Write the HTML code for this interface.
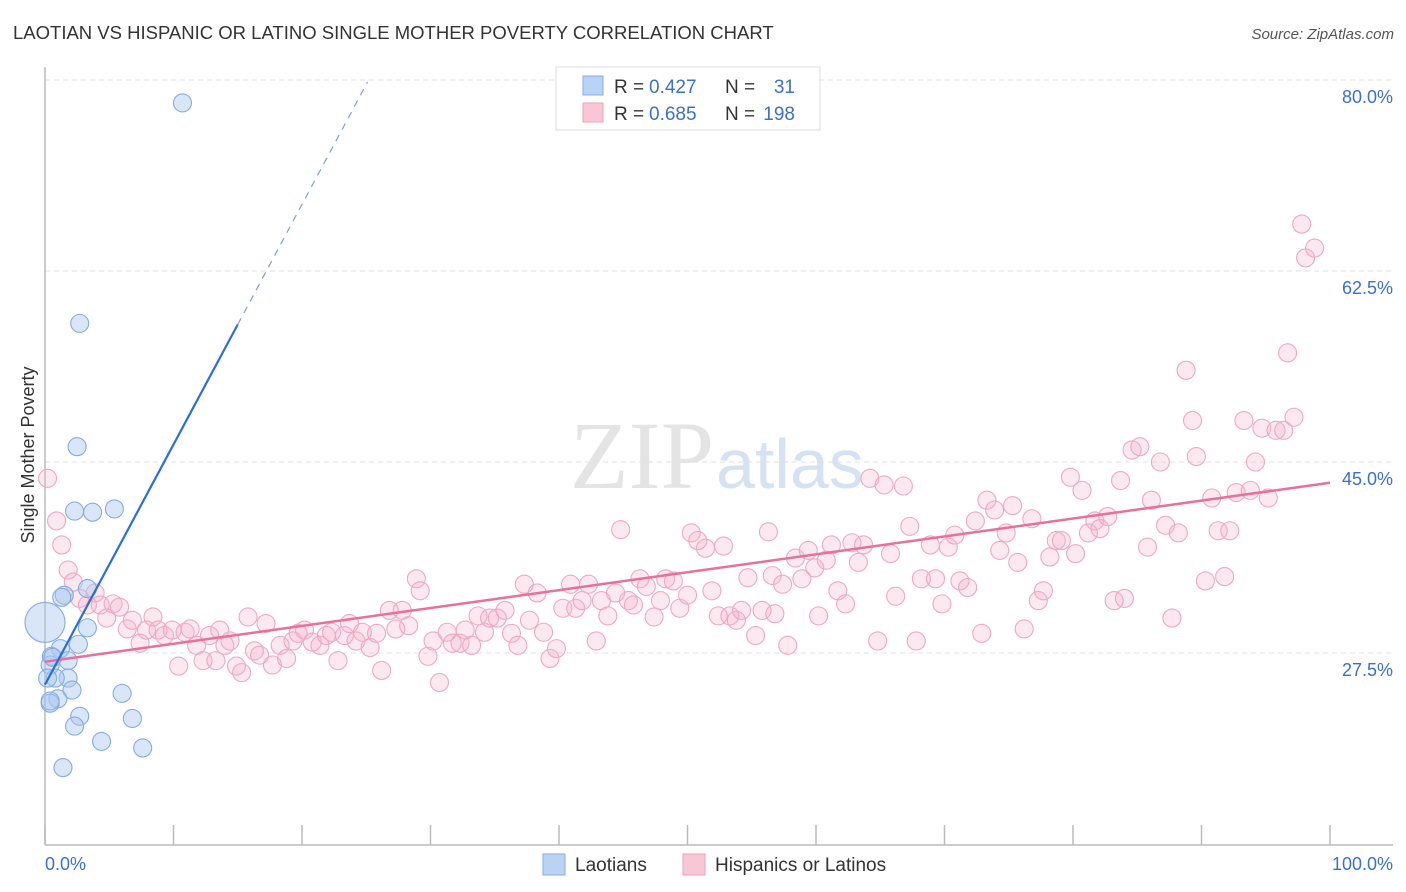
<!DOCTYPE html>
<html><head><meta charset="utf-8"><style>
body{margin:0;background:#fff;font-family:"Liberation Sans",sans-serif}
#wrap{position:relative;width:1406px;height:892px;overflow:hidden}
</style></head><body>
<div id="wrap">
<svg id="chart" width="1406" height="892">
<text x="13" y="39" font-size="18.5" fill="#333">LAOTIAN VS HISPANIC OR LATINO SINGLE MOTHER POVERTY CORRELATION CHART</text>
<text x="1394" y="39" font-size="15" fill="#555" font-style="italic" text-anchor="end">Source: ZipAtlas.com</text>
<text x="714" y="488" font-size="96" fill="#e4e4e4" text-anchor="end" font-family="Liberation Serif,serif">ZIP</text>
<text x="716" y="488" font-size="70" fill="#d6e2f4">atlas</text>
<g id="grid"></g>
<g id="axes"></g>
<g id="pink"></g>
<g id="blue"></g>
<g id="trends"></g>
<text x="34" y="455" font-size="18" fill="#333" text-anchor="middle" transform="rotate(-90 34 455)">Single Mother Poverty</text>
<g>
<rect x="556" y="67" width="264" height="63" fill="#fff" stroke="#ddd"/>
<rect x="583" y="76" width="20" height="19" fill="#b9d3f5" stroke="#86aee6"/>
<text x="614" y="93" font-size="19" fill="#333">R =</text>
<text x="649" y="93" font-size="19" fill="#3b6fd4">0.427</text>
<text x="725" y="93" font-size="19" fill="#333">N =</text>
<text x="795" y="93" font-size="19" fill="#3b6fd4" text-anchor="end">31</text>
<rect x="583" y="103" width="20" height="19" fill="#f8c6d5" stroke="#eea3bb"/>
<text x="614" y="120" font-size="19" fill="#333">R =</text>
<text x="649" y="120" font-size="19" fill="#3b6fd4">0.685</text>
<text x="725" y="120" font-size="19" fill="#333">N =</text>
<text x="795" y="120" font-size="19" fill="#3b6fd4" text-anchor="end">198</text>
</g>
<g>
<rect x="543" y="854" width="22" height="21" fill="#b9d3f5" stroke="#86aee6"/>
<text x="575" y="871" font-size="19" fill="#333">Laotians</text>
<rect x="683" y="854" width="22" height="21" fill="#f8c6d5" stroke="#eea3bb"/>
<text x="715" y="871" font-size="19" fill="#333">Hispanics or Latinos</text>
</g>
<text x="45" y="870" font-size="18" fill="#3b6fd4">0.0%</text>
<text x="1393" y="870" font-size="18" fill="#3b6fd4" text-anchor="end">100.0%</text>
</svg>
</div>
<script>
const yTicks=[80,62.5,45,27.5];
const yTickLabels=["80.0%","62.5%","45.0%","27.5%"];
const xTickVals=[0,10,20,30,40,50,60,70,80,90,100];
const blueX=[10.7,2.7,2.5,2.3,3.7,5.4,3.3,1.5,1.3,3.3,2.6,1.2,0.5,1.8,0.4,1.8,0.8,0.2,2.1,1.0,0.4,6.0,2.7,2.3,6.8,4.4,7.6,1.4,0,0.6,0.4];
const blueY=[77.9,57.7,46.4,40.5,40.4,40.7,33.4,32.8,32.6,29.8,28.3,27.9,27.2,26.8,26.4,25.2,25.2,25.2,24.1,23.3,22.9,23.8,21.7,20.8,21.5,19.4,18.8,17.0,30.3,27.1,23.1];
const blueR=[9,9,9,9,9,9,9,9,9,9,9,9,9,9,9,9,9,9,9,9,9,9,9,9,9,9,9,9,20,9,9];
const pinkX=[0.2,0.9,1.3,1.8,2.2,2.7,3.3,3.9,4.3,4.8,5.3,5.8,6.4,6.8,7.4,7.9,8.4,8.8,9.3,9.9,10.4,10.9,11.3,11.8,12.3,12.8,13.3,13.6,14.0,14.4,14.9,15.3,15.8,16.3,16.7,17.2,17.7,18.3,18.8,19.3,19.7,20.2,20.8,21.4,21.9,22.3,22.8,23.3,23.7,24.2,24.7,25.3,25.8,26.2,26.8,27.3,27.8,28.3,28.9,29.2,29.8,30.2,30.7,31.3,31.7,32.3,32.7,33.2,33.7,34.2,34.6,35.2,35.8,36.3,36.8,37.3,37.7,38.3,38.8,39.3,39.8,40.3,40.9,41.3,41.8,42.3,42.9,43.3,43.8,44.4,44.8,45.4,45.8,46.3,46.8,47.4,47.9,48.3,48.9,49.4,50.0,50.3,50.8,51.4,51.9,52.4,52.8,53.3,53.8,54.2,54.7,55.3,55.8,56.3,56.6,56.8,57.4,57.8,58.4,58.9,59.4,59.9,60.2,60.8,61.2,61.7,62.3,62.8,63.3,63.7,64.2,64.8,65.3,65.8,66.2,66.8,67.3,67.8,68.2,68.9,69.3,69.8,70.3,70.8,71.2,71.8,72.4,72.9,73.3,73.9,74.3,74.8,75.3,75.7,76.2,76.8,77.3,77.7,78.2,78.7,79.1,79.8,80.2,80.7,81.2,81.7,82.1,82.7,83.2,83.7,84.0,84.6,85.2,85.8,86.1,86.8,87.2,87.7,88.2,88.8,89.3,89.6,90.3,90.8,91.3,91.8,92.2,92.7,93.3,93.8,94.2,94.7,95.2,95.8,96.4,96.7,97.2,97.8,98.1,98.8];
const pinkY=[43.5,39.6,37.4,35.1,34.0,32.5,31.9,33.0,31.9,30.7,32.0,31.7,29.7,30.5,28.4,29.6,30.8,29.6,29.1,29.6,26.3,29.4,29.7,28.2,26.8,29.1,26.8,29.6,28.2,28.6,26.3,25.7,30.8,27.7,27.3,30.2,26.4,28.2,27.0,28.6,29.3,29.6,28.5,28.2,29.1,29.4,26.8,29.1,30.2,28.6,29.4,28.0,29.3,25.9,31.4,29.7,31.4,30.0,34.3,33.2,27.2,28.6,24.8,29.4,28.4,28.4,29.6,28.2,30.9,29.4,30.7,30.7,31.4,29.3,28.2,33.8,30.5,33.0,29.4,27.0,27.9,31.6,33.8,31.6,32.3,33.8,28.6,32.3,30.9,33.0,38.8,32.3,31.9,34.3,33.6,30.8,32.3,34.3,34.1,31.6,32.8,38.5,37.8,37.1,33.2,30.9,37.3,30.9,30.5,31.4,34.4,29.1,31.4,38.6,34.6,31.1,33.8,28.2,36.2,34.3,36.9,35.3,30.9,36.0,37.4,33.2,32.0,37.6,35.8,37.4,43.5,28.6,42.9,36.6,32.7,42.8,39.1,28.6,34.3,37.4,34.3,32.0,37.2,38.3,34.1,33.5,39.6,29.3,41.5,40.6,36.9,38.5,41.0,35.8,29.7,39.8,32.3,33.2,36.3,37.8,37.8,43.6,36.6,42.4,38.5,39.6,38.9,40.0,32.3,43.3,32.5,46.1,46.4,37.2,41.5,45.0,39.2,30.7,38.5,53.4,48.8,45.5,34.1,41.7,38.7,34.5,38.7,42.2,48.8,42.4,45.0,48.1,41.7,47.9,47.9,55.0,49.1,66.8,63.7,64.6];
const blueTrend=[24.6,2.2];   // intercept, slope
const pinkTrend=[26.7,0.164];
const NS="http://www.w3.org/2000/svg";
function xs(v){return 45+v*12.85;}
function ys(v){return 80+(80-v)*10.914;}
function mk(tag,attrs,parent){const e=document.createElementNS(NS,tag);for(const k in attrs)e.setAttribute(k,attrs[k]);parent.appendChild(e);return e;}
const grid=document.getElementById('grid');
yTicks.forEach((t,i)=>{
  const l=mk('line',{x1:45,x2:1393,y1:ys(t),y2:ys(t),stroke:'#e2e2e2','stroke-dasharray':'5,4'},grid);
  
  
  const tx=mk('text',{x:1393,y:ys(t)+23,'font-size':18,fill:'#3b6fd4','text-anchor':'end'},grid);
  tx.textContent=yTickLabels[i];
  
  
});
const axes=document.getElementById('axes');
const ya=mk('line',{x1:45,x2:45,y1:67,y2:845,stroke:'#bbb','stroke-width':1.5},axes);


const xa=mk('line',{x1:45,x2:1393,y1:845,y2:845,stroke:'#bbb','stroke-width':1.5},axes);


xTickVals.forEach(v=>{
  const t=mk('line',{x1:xs(v),x2:xs(v),y1:825,y2:845,stroke:'#bbb','stroke-width':1.5},axes);
  
  
});
const pg=document.getElementById('pink');
pinkX.forEach((x,i)=>{
  const c=mk('circle',{cx:xs(x),cy:ys(pinkY[i]),r:9,fill:'rgba(246,180,202,0.3)',stroke:'#f0a8c0','stroke-width':1.1},pg);
  
  
});
const bg=document.getElementById('blue');
blueX.forEach((x,i)=>{
  const c=mk('circle',{cx:xs(x),cy:ys(blueY[i]),r:blueR[i],fill:'rgba(170,200,240,0.45)',stroke:'#84ace4','stroke-width':1.1},bg);
  
  
});
const tg=document.getElementById('trends');
const pl=mk('line',{x1:xs(0),y1:ys(pinkTrend[0]),x2:xs(100),y2:ys(pinkTrend[0]+pinkTrend[1]*100),stroke:'#e8709a','stroke-width':2.5},tg);


const bl=mk('line',{x1:xs(0),y1:ys(blueTrend[0]),x2:xs(15),y2:ys(blueTrend[0]+blueTrend[1]*15),stroke:'#2a6ed8','stroke-width':2.2},tg);


const bd=mk('line',{x1:xs(15),y1:ys(blueTrend[0]+blueTrend[1]*15),x2:xs(25.1),y2:ys(blueTrend[0]+blueTrend[1]*25.1),stroke:'#7ea0d8','stroke-width':1.2,'stroke-dasharray':'7,6'},tg);


</script>
</body></html>
